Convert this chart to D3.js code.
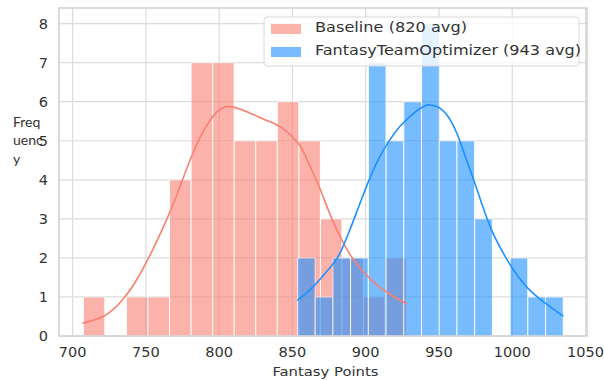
<!DOCTYPE html>
<html>
<head>
<meta charset="utf-8">
<script src="https://cdn.jsdelivr.net/npm/d3@7"></script>
<style>
  body { margin: 0; background: #fff; }
  text { font-family: "DejaVu Sans", sans-serif; fill: #333; }
</style>
</head>
<body>
<div id="chart"></div>
<script>
// histogram counts per bin (15 bins each)
const baselineCounts = [1, 0, 1, 1, 4, 7, 7, 5, 5, 6, 5, 3, 2, 1, 2];
const optimizerCounts = [2, 1, 2, 2, 7, 5, 6, 8, 5, 5, 3, 0, 2, 1, 1];
// min / max of each sample (bin range)
const baselineRange = [707.3, 927.9];
const optimizerRange = [853.4, 1034.8];

// kde curves (scaled to counts)
const baselineKdeX = [706.8, 713.8, 720.9, 727.7, 734.5, 741.4, 748.2, 755.0, 761.8, 766.4, 771.0, 773.2, 780.1, 786.9, 793.7, 800.5, 806.2, 814.2, 823.3, 832.4, 839.2, 846.0, 852.9, 855.1, 861.9, 868.8, 875.6, 882.4, 889.2, 896.1, 902.9, 909.7, 916.6, 927.9];
const baselineKdeY = [0.33, 0.40, 0.50, 0.68, 0.95, 1.30, 1.74, 2.24, 2.78, 3.18, 3.60, 3.82, 4.50, 5.08, 5.52, 5.80, 5.88, 5.81, 5.67, 5.52, 5.41, 5.24, 4.98, 4.88, 4.36, 3.77, 3.12, 2.55, 2.09, 1.74, 1.47, 1.24, 1.07, 0.82];
const optimizerKdeX = [853.3, 862.0, 871.0, 882.4, 889.2, 896.1, 902.9, 909.7, 916.6, 923.4, 930.2, 937.0, 942.7, 948.4, 955.2, 962.1, 968.9, 975.7, 980.2, 987.0, 993.9, 1000.7, 1007.5, 1014.3, 1021.2, 1028.0, 1034.8];
const optimizerKdeY = [0.91, 1.18, 1.55, 2.12, 2.72, 3.40, 4.05, 4.60, 5.03, 5.37, 5.62, 5.82, 5.92, 5.88, 5.67, 5.20, 4.50, 3.78, 3.28, 2.62, 2.12, 1.70, 1.36, 1.09, 0.88, 0.69, 0.51];

const xTicks = [700, 750, 800, 850, 900, 950, 1000, 1050];
const yTicks = [0, 1, 2, 3, 4, 5, 6, 7, 8];
const seriesNames = ["Baseline (820 avg)", "FantasyTeamOptimizer (943 avg)"];
const SALMON = "#FA8072";
const BLUE = "#1E90FF";

const W = 604, H = 380;
const margin = { top: 8, right: 17, bottom: 44, left: 59 };
const width = W - margin.left - margin.right;
const height = H - margin.top - margin.bottom;

const svg = d3.select("#chart").append("svg")
    .attr("width", W)
    .attr("height", H);

const g = svg.append("g")
    .attr("transform", `translate(${margin.left},${margin.top})`);

const x = d3.scaleLinear().domain([690.7, 1051]).range([0, width]);
const y = d3.scaleLinear().domain([0, 8.4]).range([height, 0]);

// grid (below the bars)
g.append("g").selectAll("line").data(xTicks).join("line")
    .attr("x1", d => x(d)).attr("x2", d => x(d))
    .attr("y1", 0).attr("y2", height)
    .attr("stroke", "#dcdcdc").attr("stroke-width", 1.2);
g.append("g").selectAll("line").data(yTicks).join("line")
    .attr("x1", 0).attr("x2", width)
    .attr("y1", d => y(d)).attr("y2", d => y(d))
    .attr("stroke", "#dcdcdc").attr("stroke-width", 1.2);

// turn counts + range into bins
function makeBins(counts, range) {
  const step = (range[1] - range[0]) / counts.length;
  return counts.map((c, i) => ({ x0: range[0] + i * step, x1: range[0] + (i + 1) * step, n: c }));
}

function drawBars(counts, range, color) {
  g.append("g").selectAll("rect")
    .data(makeBins(counts, range).filter(d => d.n > 0))
    .join("rect")
      .attr("x", d => x(d.x0))
      .attr("y", d => y(d.n))
      .attr("width", d => x(d.x1) - x(d.x0))
      .attr("height", d => y(0) - y(d.n))
      .attr("fill", color)
      .attr("stroke", "#fff")
      .attr("stroke-width", 1)
      .attr("opacity", 0.6);
}

drawBars(baselineCounts, baselineRange, SALMON);
drawBars(optimizerCounts, optimizerRange, BLUE);

const line = d3.line()
    .x(d => x(d[0]))
    .y(d => y(d[1]))
    .curve(d3.curveMonotoneX);

g.append("path")
    .datum(d3.zip(baselineKdeX, baselineKdeY))
    .attr("d", line)
    .attr("fill", "none")
    .attr("stroke", SALMON)
    .attr("stroke-width", 1.6);
g.append("path")
    .datum(d3.zip(optimizerKdeX, optimizerKdeY))
    .attr("d", line)
    .attr("fill", "none")
    .attr("stroke", BLUE)
    .attr("stroke-width", 1.6);

// frame
g.append("rect")
    .attr("width", width).attr("height", height)
    .attr("fill", "none")
    .attr("stroke", "#d0d0d0")
    .attr("stroke-width", 1.5);

// tick labels
g.append("g").selectAll("text").data(xTicks).join("text")
    .attr("x", d => x(d))
    .attr("y", height + 21)
    .attr("text-anchor", "middle")
    .style("font-size", "14.5px")
    .text(d => d);
g.append("g").selectAll("text").data(yTicks).join("text")
    .attr("x", -11)
    .attr("y", d => y(d) + 5)
    .attr("text-anchor", "end")
    .style("font-size", "14.5px")
    .text(d => d);

// axis labels
g.append("text")
    .attr("x", x(872.5))
    .attr("y", height + 40)
    .attr("text-anchor", "middle")
    .attr("textLength", 106)
    .attr("lengthAdjust", "spacingAndGlyphs")
    .style("font-size", "13px")
    .text("Fantasy Points");

// y label wraps into pieces in the original
const ylab = svg.append("text")
    .attr("x", 13)
    .attr("y", 126.5)
    .style("font-family", "Lato, sans-serif")
    .style("font-size", "14px");
["Freq", "uenc", "y"].forEach((s, i) => {
  ylab.append("tspan").attr("x", 13).attr("dy", i === 0 ? 0 : 18.5).text(s);
});

// legend
const legendWidths = [152, 266];
const legend = svg.append("g").attr("transform", "translate(264,17)");
legend.append("rect")
    .attr("width", 315).attr("height", 49)
    .attr("rx", 3)
    .attr("fill", "#fff").attr("fill-opacity", 0.8)
    .attr("stroke", "#d8d8d8");
seriesNames.forEach((name, i) => {
  legend.append("rect")
      .attr("x", 7).attr("y", 7 + i * 23)
      .attr("width", 30).attr("height", 10)
      .attr("fill", i === 0 ? SALMON : BLUE)
      .attr("opacity", 0.6);
  legend.append("text")
      .attr("x", 51).attr("y", 14.5 + i * 23)
      .attr("textLength", legendWidths[i])
      .attr("lengthAdjust", "spacingAndGlyphs")
      .style("font-size", "14.5px")
      .text(name);
});
</script>
</body>
</html>
